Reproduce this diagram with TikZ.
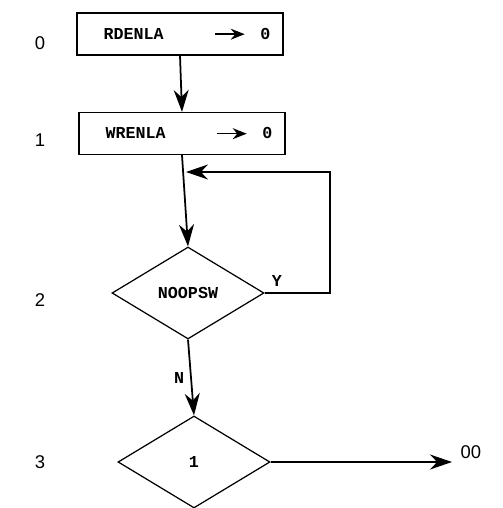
\documentclass[tikz,border=0pt]{standalone}
\usepackage{fontspec}
\setmainfont{Liberation Serif}
\setsansfont{Liberation Sans}
\setmonofont{Liberation Mono}
\usepackage{tikz}
\usetikzlibrary{arrows.meta,positioning,shapes.geometric}
\newcommand{\setto}{\tikz[baseline=-0.6ex]\draw[line width=0.9pt,-{Stealth[length=2.8mm,width=2.2mm]}] (0,0) -- (0.6,0);}
\tikzset{
  stepbox/.style ={draw, rectangle, minimum width=4.12cm, minimum height=0.84cm,
                   inner xsep=0.25cm, text width=3.62cm, line width=0.7pt,
                   font=\ttfamily\bfseries\fontsize{9.5}{11}\selectfont},
  test/.style    ={draw, diamond, minimum width=3.04cm, minimum height=1.84cm,
                   inner sep=0pt, line width=0.7pt,
                   font=\ttfamily\bfseries\fontsize{9.5}{11}\selectfont},
  flow/.style    ={-{Stealth[length=4.4mm,width=3mm]}, line width=1pt},
  stepno/.style  ={font=\sffamily\fontsize{10.5}{12}\selectfont},
  brlbl/.style   ={font=\ttfamily\bfseries\fontsize{9.5}{11}\selectfont},
}
\begin{document}
\begin{tikzpicture}
\useasboundingbox (0,0) rectangle (10.04,-10.16);
% boxes and tests
\node[stepbox] (rd) at (3.6,-0.68)
  {\hspace*{0.28cm}RDENLA\hfill\setto\hspace{0.3cm}0};
\node[stepbox] (wr) at (3.64,-2.67)
  {\hspace*{0.28cm}WRENLA\hfill\setto\hspace{0.3cm}0};
\node[test] (nsw) at (3.76,-5.86) {NOOPSW};
\node[test] (one) at (3.88,-9.24) {1};
% step numbers
\node[stepno] (s0) at (0.8,-0.86) {0};
\node[stepno] (s1) at (0.8,-2.8)  {1};
\node[stepno] (s2) at (0.8,-6.0)  {2};
\node[stepno] (s3) at (0.8,-9.24) {3};
% connectors
\coordinate (loopc) at (6.6,-3.44);
\coordinate (merge) at (3.72,-3.44);
\coordinate (exit)  at (9.04,-9.2);
\draw[flow] (rd.south) -- (wr.north);
\draw[flow] (wr.south) -- (nsw.north);
\draw[flow] (nsw.east) -| (loopc) -- (merge);
\draw[flow] (nsw.south) -- node[brlbl, left, pos=0.5] {N} (one.north);
\draw[flow] (one.east) -- (one.east -| exit);
\node[brlbl, above right=0pt and 0.02cm of nsw.east] (ylbl) {Y};
\node[stepno, right=0.05cm of exit, yshift=0.16cm] (oo) {00};
\end{tikzpicture}
\end{document}
